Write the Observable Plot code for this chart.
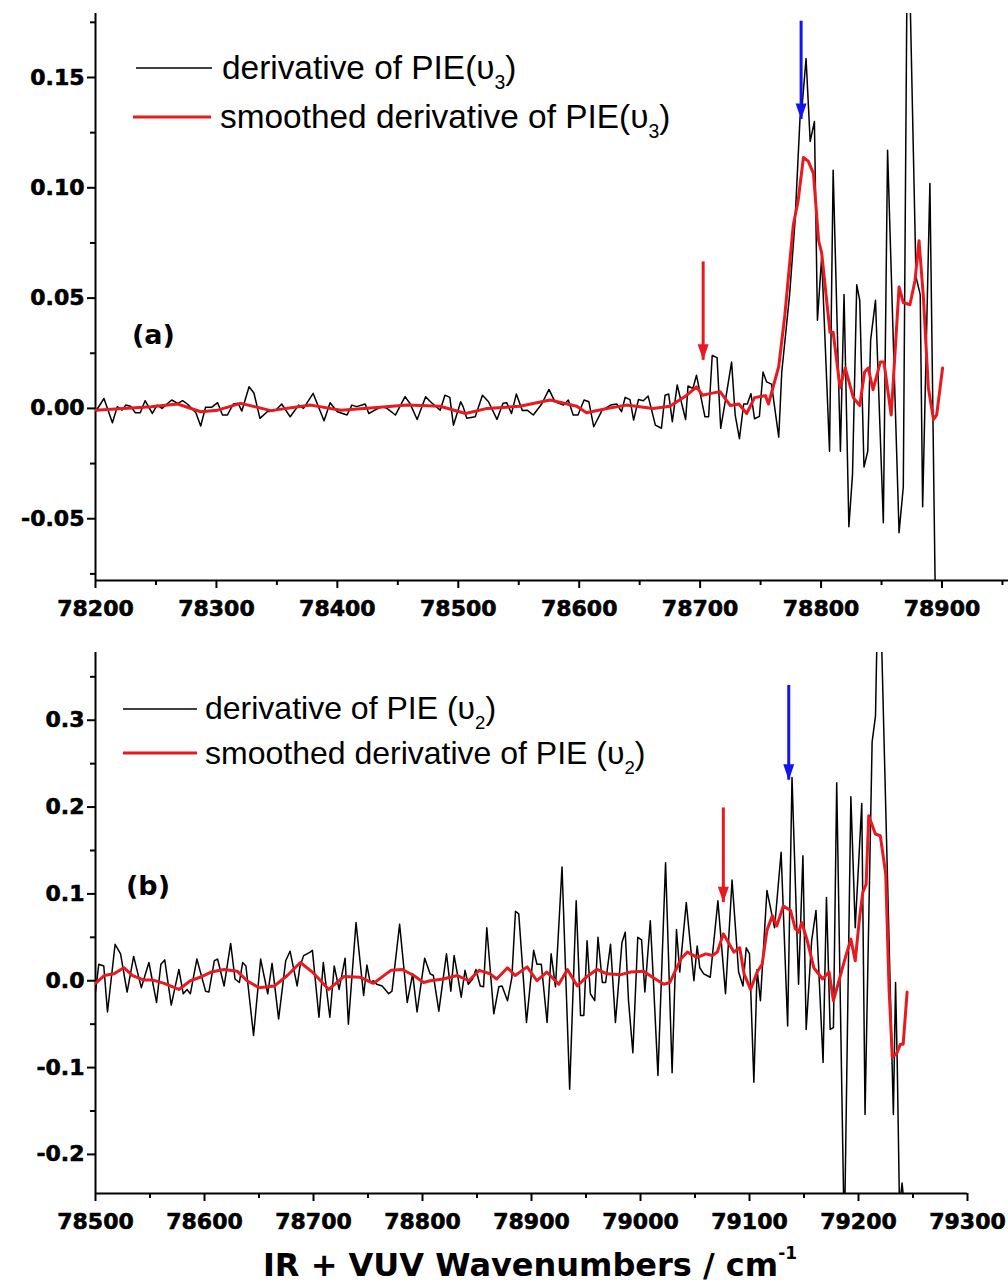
<!DOCTYPE html>
<html>
<head>
<meta charset="utf-8">
<script src="https://cdn.jsdelivr.net/npm/d3@7"></script>
<script src="https://cdn.jsdelivr.net/npm/@observablehq/plot@0.6"></script>
<style>
  html, body { margin: 0; padding: 0; background: #fff; }
  #wrap { position: relative; width: 1008px; height: 1287px; overflow: hidden; background: #fff; }
  .panel { position: absolute; left: 0; }
  .panel svg { display: block; }
  #overlay { position: absolute; left: 0; top: 0; pointer-events: none; }
</style>
</head>
<body>
<div id="wrap">
  <div id="panelA" class="panel" style="top:0"></div>
  <div id="panelB" class="panel" style="top:620px"></div>
</div>
<script>
// ---------------- DATA ----------------
// Panel (a): derivative of PIE(v3) — [wavenumber, value]
const topRaw = [
[78200,-0.0015],[78207,0.0045],[78214,-0.0065],[78218,0.0008],[78222,-0.0008],[78225,0.0015],[78229,0.001],[78233,-0.002],[78237,-0.002],[78241,0.0035],
[78247,-0.0023],[78251,0.0015],[78255,0],[78263,0.0038],[78268,0.0023],[78272,0.0035],[78276,0.002],[78283,-0.002],[78287,-0.008],[78291,0.0005],
[78296,0.0005],[78301,0.0026],[78305,-0.003],[78309,-0.003],[78314,0.002],[78318,0.0023],[78321,-0.0012],[78327,0.0098],[78331,0.007],[78336,-0.0045],
[78342,-0.0015],[78349,-0.0008],[78354,0.002],[78361,-0.0038],[78368,0.0015],[78372,0],[78380,0.0068],[78389,-0.0056],[78394,0.0026],[78400,-0.0015],
[78408,-0.003],[78412,0.0015],[78416,0.0008],[78423,0.002],[78426,-0.0023],[78431,-0.0008],[78437,0.0008],[78441,0],[78448,-0.003],[78456,0.0053],
[78460,0.0023],[78466,-0.005],[78473,0.0053],[78477,0.003],[78485,-0.0008],[78489,0.006],[78493,0.005],[78496,-0.0076],[78502,0.003],[78504,0.0008],
[78507,-0.0045],[78514,-0.0038],[78520,0.006],[78525,0.003],[78532,-0.005],[78537,0.0023],[78540,0.0026],[78544,-0.0023],[78548,0.0065],[78553,-0.001],
[78557,-0.0008],[78562,-0.003],[78569,0.002],[78575,0.0086],[78580,0.003],[78587,0.0015],[78591,0.0038],[78595,-0.003],[78599,-0.003],[78604,0.0038],
[78608,0.003],[78612,-0.0083],[78619,-0.0008],[78626,0.0015],[78631,0.002],[78635,-0.0015],[78638,0.005],[78642,0.004],[78645,-0.0053],[78649,0.004],
[78653,0.0035],[78657,0.0056],[78663,-0.0076],[78668,-0.009],[78671,0.006],[78674,0.0065],[78677,-0.006],[78681,0.0106],[78688,-0.005],[78690,0.0102],
[78694,0.009],[78697,0.015],[78704,-0.0038],[78707,-0.0038],[78710,0.024],[78714,0.023],[78717,-0.009],[78721,0.004],[78726,0.021],[78729,-0.003],
[78732.5,-0.0137],[78736,0.002],[78739,0.002],[78742,0.0067],[78745,-0.0047],[78749,-0.0036],[78752,0.0165],[78755,0.012],[78759,0.011],[78765,-0.013],
[78767.5,0.0165],[78774,0.0516],[78778.5,0.085],[78782.6,0.1317],[78784,0.135],[78787.6,0.1586],[78791,0.121],[78794.5,0.130],[78797,0.040],[78800.5,0.0687],
[78807,-0.0194],[78810,0.108],[78816,-0.0194],[78819,0.0516],[78823,-0.0536],[78826,-0.030],[78829.5,0.056],[78832,0.049],[78835.5,-0.0266],[78838.6,-0.0194],
[78841,0.031],[78845,0.049],[78851.5,-0.0518],[78855,0.117],[78864.5,-0.0563],[78868,-0.0356],[78871,0.19],[78873.5,0.19],[78878.5,0.0597],[78882,0.0516],
[78884,-0.0446],[78890,0.102],[78894.8,-0.10]
];
// Panel (a): smoothed derivative
const topSmooth = [
[78200,-0.0008],[78223,0],[78246,0.0008],[78268,0.002],[78287,-0.0015],[78301,-0.0008],[78320,0.0023],[78345,-0.001],[78378,0.0015],[78403,-0.0008],
[78430,0.0003],[78458,0.0015],[78485,0.001],[78506,-0.0023],[78524,0],[78551,0.001],[78576,0.0038],[78598,0.001],[78606,-0.002],[78623,0],
[78639,0.0015],[78661,0],[78675,0.001],[78689,0.006],[78697,0.0098],[78702,0.006],[78708,0.0067],[78716.5,0.0076],[78725,0.0013],[78732,0.002],
[78738.5,-0.0023],[78745,0.0049],[78754,0.0058],[78756.5,0.002],[78765,0.019],[78770,0.042],[78777,0.083],[78781,0.094],[78785.4,0.1137],[78789.5,0.112],
[78793.7,0.1065],[78798,0.076],[78800.5,0.0705],[78807.4,0.0345],[78810,0.0345],[78815.7,0.0094],[78820,0.0183],[78826.7,0.0049],[78832,0.0013],[78836,0.0165],
[78839,0.0183],[78843,0.0085],[78849,0.021],[78852,0.021],[78858,-0.003],[78864.5,0.055],[78868,0.048],[78873.5,0.047],[78877.7,0.058],[78881,0.076],
[78884.6,0.0507],[78888.7,0.0094],[78893,-0.005],[78895.6,-0.003],[78900.5,0.0183]
];
// Panel (b): derivative of PIE(v2)
const botRaw = [
[78500,-0.013],[78503,0.019],[78507.6,0.017],[78511,-0.036],[78518,0.042],[78523,0.031],[78529,-0.013],[78535,0.028],[78542,-0.008],[78549,0.021],
[78556,-0.025],[78560,0.019],[78563.5,0.024],[78569.5,-0.028],[78576.5,0.013],[78580.5,-0.015],[78584,-0.010],[78587,-0.015],[78593,0.025],[78601,-0.012],
[78604,-0.013],[78609,0.023],[78612,0.025],[78618,-0.006],[78624,0.043],[78628,0.002],[78632,-0.002],[78635,0.021],[78638,0.017],[78645,-0.063],
[78651.5,0.025],[78658,-0.015],[78662,0.020],[78668,-0.044],[78674.5,0.023],[78678.5,0.034],[78685,-0.006],[78687.5,0.016],[78691,0.029],[78697,0.033],
[78699,0.035],[78705,-0.042],[78709,0.021],[78715,-0.042],[78719,0.017],[78723.5,-0.010],[78729,0.026],[78732,-0.050],[78739,0.067],[78746,-0.017],
[78749,0.018],[78752,-0.002],[78755,0],[78758,-0.004],[78763,-0.006],[78769,-0.015],[78772,-0.012],[78779,0.065],[78786,-0.025],[78791,0.008],
[78795,-0.036],[78802,0.026],[78807,0.008],[78810,0.006],[78815,-0.035],[78822,0.031],[78826,-0.012],[78829,0.029],[78832,0.008],[78835.5,-0.019],
[78839,0.012],[78842,-0.004],[78846,0.002],[78849,0.013],[78853,-0.006],[78856,-0.007],[78859,0.061],[78865.4,-0.038],[78870,-0.007],[78873,-0.006],
[78878,-0.023],[78882,0.004],[78885.3,0.080],[78888.3,0.077],[78895.4,-0.048],[78902,0.035],[78905,0.019],[78909,0.019],[78914.3,-0.048],[78918,0.031],
[78922,-0.007],[78928,0.131],[78935,-0.125],[78941,0.092],[78945,-0.040],[78948,-0.040],[78951,0.046],[78954,-0.015],[78958,-0.023],[78961,0.050],
[78965,-0.002],[78968,-0.002],[78972.5,0.042],[78977,-0.048],[78983,0.044],[78986,0.056],[78989,-0.023],[78993,-0.083],[78997.5,0.050],[79001,0.047],
[79004,-0.013],[79009,0.069],[79012,-0.004],[79016,-0.109],[79023,0.136],[79029,-0.106],[79033,0.059],[79036,0.010],[79042,0.090],[79049,0],
[79052,0.040],[79054.4,0.015],[79058,0.008],[79064,0.004],[79071,0.092],[79078,-0.015],[79084,0.116],[79090,0.010],[79094,-0.006],[79097,0.038],
[79100,0.031],[79104,-0.117],[79107,0.013],[79110,-0.023],[79116,0.104],[79123,0.061],[79129,0.148],[79135,-0.052],[79139,0.234],[79145,-0.004],
[79149,0.144],[79152,-0.056],[79157,0.046],[79161,0.081],[79167.5,-0.094],[79170.6,0.096],[79174,-0.056],[79177,-0.054],[79180,0.228],[79187,-0.30],
[79193,0.212],[79197,0.061],[79203,0.204],[79206,-0.154],[79212.5,0.275],[79215.6,0.305],[79217,0.40],[79221,0.40],[79232,-0.154],[79234,-0.002],
[79235.5,-0.092],[79237.6,-0.26],[79240,-0.233],[79242,-0.26]
];
// Panel (b): smoothed derivative
const botSmooth = [
[78500,-0.003],[78508,0.006],[78517,0.008],[78526,0.015],[78534,0.006],[78544,0.001],[78552,0.001],[78563,-0.003],[78576.5,-0.010],[78587,0],
[78596,0.004],[78606,0.010],[78618,0.013],[78630,0.011],[78639,0],[78650,-0.008],[78664,-0.006],[78676,0.006],[78688,0.021],[78699,0.010],
[78714,-0.010],[78728,0.005],[78743,0.004],[78755,-0.003],[78771,0.012],[78781.5,0.013],[78792,0.006],[78801,-0.002],[78807,0],[78819,0.002],
[78832,0.006],[78842.5,0],[78852,0.012],[78862,0.008],[78868,0.002],[78878,0.015],[78885,0.006],[78896,0.016],[78905,0],[78914,0.010],
[78925,-0.004],[78933,0.013],[78942,-0.006],[78951,0.005],[78960,0.013],[78969.4,0.008],[78982,0.007],[78991,0.010],[79003,0.011],[79011,0.004],
[79021.4,-0.004],[79027,-0.002],[79037,0.025],[79043,0.033],[79052,0.027],[79060,0.031],[79066,0.029],[79070.5,0.033],[79076,0.054],[79082.5,0.040],
[79085.6,0.033],[79091,0.038],[79095,0.008],[79101,-0.010],[79107,0.010],[79111.6,0.019],[79116,0.058],[79121,0.075],[79125,0.063],[79131,0.086],
[79137.6,0.081],[79142,0.060],[79145,0.056],[79148,0.067],[79153,0.046],[79159,0.015],[79167,0.002],[79173,0.010],[79177,-0.023],[79188,0.027],
[79193,0.048],[79197,0.023],[79201,0.073],[79204,0.102],[79207,0.111],[79209.4,0.190],[79215.5,0.169],[79220,0.167],[79225,0.123],[79228,-0.008],
[79231,-0.088],[79235,-0.084],[79238.5,-0.073],[79241,-0.073],[79244.6,-0.013]
];
// Annotation arrows: wavenumber, start value, tip value, colour
const topArrowX = [78702.5, 78783.5];
const topArrowFrom = [0.0664, 0.1755];
const topArrowTo = [0.0218, 0.131];
const botArrowX = [79076, 79136];
const botArrowFrom = [0.199, 0.340];
const botArrowTo = [0.090, 0.231];
const arrowColors = ["#e8191f", "#1414f0"];

// Axis ticks
const topMajorX = [78200, 78300, 78400, 78500, 78600, 78700, 78800, 78900];
const topMinorX = [78250, 78350, 78450, 78550, 78650, 78750, 78850, 78950];
const topMajorY = [-0.05, 0, 0.05, 0.10, 0.15];
const topMinorY = [-0.075, -0.025, 0.025, 0.075, 0.125, 0.175];
const botMajorX = [78500, 78600, 78700, 78800, 78900, 79000, 79100, 79200, 79300];
const botMinorX = [78550, 78650, 78750, 78850, 78950, 79050, 79150, 79250];
const botMajorY = [-0.2, -0.1, 0, 0.1, 0.2, 0.3];
const botMinorY = [-0.15, -0.05, 0.05, 0.15, 0.25, 0.35];

// Text
const legendA = ["derivative of PIE(", "smoothed derivative of PIE("];
const legendB = ["derivative of PIE (", "smoothed derivative of PIE ("];
const xTitle = "IR + VUV Wavenumbers / cm";

// ---------------- DRAW ----------------
const RED = "#e8191f";
const arrowHead = {
  draw(ctx, size) {
    const s = Math.sqrt(size);
    ctx.moveTo(0, 0);
    ctx.lineTo(-0.62 * s, -1.8 * s);
    ctx.lineTo(0.62 * s, -1.8 * s);
    ctx.closePath();
  }
};

function panel(cfg) {
  const raw = cfg.raw.map(([x, y]) => ({x, y}));
  const smooth = cfg.smooth.map(([x, y]) => ({x, y}));
  const arrows = cfg.ax.map((x, i) => ({x, y1: cfg.a1[i], y2: cfg.a2[i], c: arrowColors[i]}));
  const txt = {textStroke: "black", textStrokeWidth: 0.6};
  return Plot.plot({
    width: 1008,
    height: cfg.height,
    marginTop: cfg.mt,
    marginBottom: cfg.mb,
    marginLeft: 95,
    marginRight: cfg.mr,
    x: {domain: cfg.xd, label: null},
    y: {domain: cfg.yd, label: null},
    color: {type: "identity"},
    style: {fontFamily: "'DejaVu Sans', sans-serif", fontWeight: "bold", fontSize: "22px", background: "white", color: "black", overflow: "visible"},
    marks: [
      Plot.axisX(cfg.minorX, {tickSize: 5, strokeWidth: 2, tickFormat: () => "", label: null}),
      Plot.axisX(cfg.majorX, {tickSize: 8, tickPadding: 12, strokeWidth: 2, tickFormat: d => String(d), label: null, ...txt}),
      Plot.axisY(cfg.minorY, {tickSize: 5, strokeWidth: 2, tickFormat: () => "", label: null}),
      Plot.axisY(cfg.majorY, {tickSize: 8, tickPadding: 3, strokeWidth: 2, tickFormat: d => d.toFixed(cfg.digits), label: null, ...txt}),
      Plot.ruleX([cfg.xd[0]], {strokeWidth: 2}),
      Plot.ruleY([cfg.yd[0]], {strokeWidth: 2}),
      Plot.line(raw, {x: "x", y: "y", stroke: "#000", strokeWidth: 1.5, clip: true}),
      Plot.line(smooth, {x: "x", y: "y", stroke: RED, strokeWidth: 3, clip: true}),
      Plot.ruleX(arrows, {x: "x", y1: "y1", y2: "y2", stroke: "c", strokeWidth: 3}),
      Plot.dot(arrows, {x: "x", y: "y2", symbol: arrowHead, r: 5, fill: "c", stroke: null})
    ]
  });
}

document.getElementById("panelA").appendChild(panel({
  raw: topRaw, smooth: topSmooth, ax: topArrowX, a1: topArrowFrom, a2: topArrowTo,
  height: 620, mt: 13, mb: 40, mr: 0,
  xd: [78200, 78955], yd: [-0.078, 0.179],
  majorX: topMajorX, minorX: topMinorX, majorY: topMajorY, minorY: topMinorY, digits: 2
}));
document.getElementById("panelB").appendChild(panel({
  raw: botRaw, smooth: botSmooth, ax: botArrowX, a1: botArrowFrom, a2: botArrowTo,
  height: 667, mt: 32, mb: 94, mr: 41,
  xd: [78500, 79300], yd: [-0.245, 0.378],
  majorX: botMajorX, minorX: botMinorX, majorY: botMajorY, minorY: botMinorY, digits: 1
}));

// Overlay: legends, panel labels and axis title
const svg = d3.select("#wrap").append("svg").attr("id", "overlay")
  .attr("width", 1008).attr("height", 1287);

function legendRow(x1, x2, ly, color, w, tx, ty, txt, sub, fs) {
  svg.append("line").attr("x1", x1).attr("x2", x2).attr("y1", ly).attr("y2", ly)
    .attr("stroke", color).attr("stroke-width", w);
  const t = svg.append("text").attr("x", tx).attr("y", ty)
    .attr("font-family", "'Liberation Sans', Arial, sans-serif").attr("font-size", fs).attr("fill", "#000");
  t.append("tspan").text(txt + "\u03C5");
  t.append("tspan").attr("dy", 10).attr("font-size", fs * 0.58).text(sub);
  t.append("tspan").attr("dy", -10).text(")");
}
legendRow(136, 212, 68, "#000", 1.5, 222, 79, legendA[0], "3", 33.4);
legendRow(133, 211, 117, RED, 3, 220, 128, legendA[1], "3", 33.4);
legendRow(123, 197, 709, "#000", 1.5, 205, 719, legendB[0], "2", 32);
legendRow(123, 197, 753, RED, 3, 205, 764, legendB[1], "2", 32);

svg.append("text").attr("x", 132).attr("y", 344)
  .attr("font-family", "'DejaVu Sans', sans-serif").attr("font-weight", "bold").attr("font-size", 27).text("(a)");
svg.append("text").attr("x", 126).attr("y", 895)
  .attr("font-family", "'DejaVu Sans', sans-serif").attr("font-weight", "bold").attr("font-size", 27).text("(b)");

const title = svg.append("text").attr("x", 530).attr("y", 1276).attr("text-anchor", "middle")
  .attr("font-family", "'DejaVu Sans', sans-serif").attr("font-weight", "bold").attr("font-size", 32);
title.append("tspan").text(xTitle);
title.append("tspan").attr("dy", -17).attr("font-size", 17).text("-1");
</script>
</body>
</html>
